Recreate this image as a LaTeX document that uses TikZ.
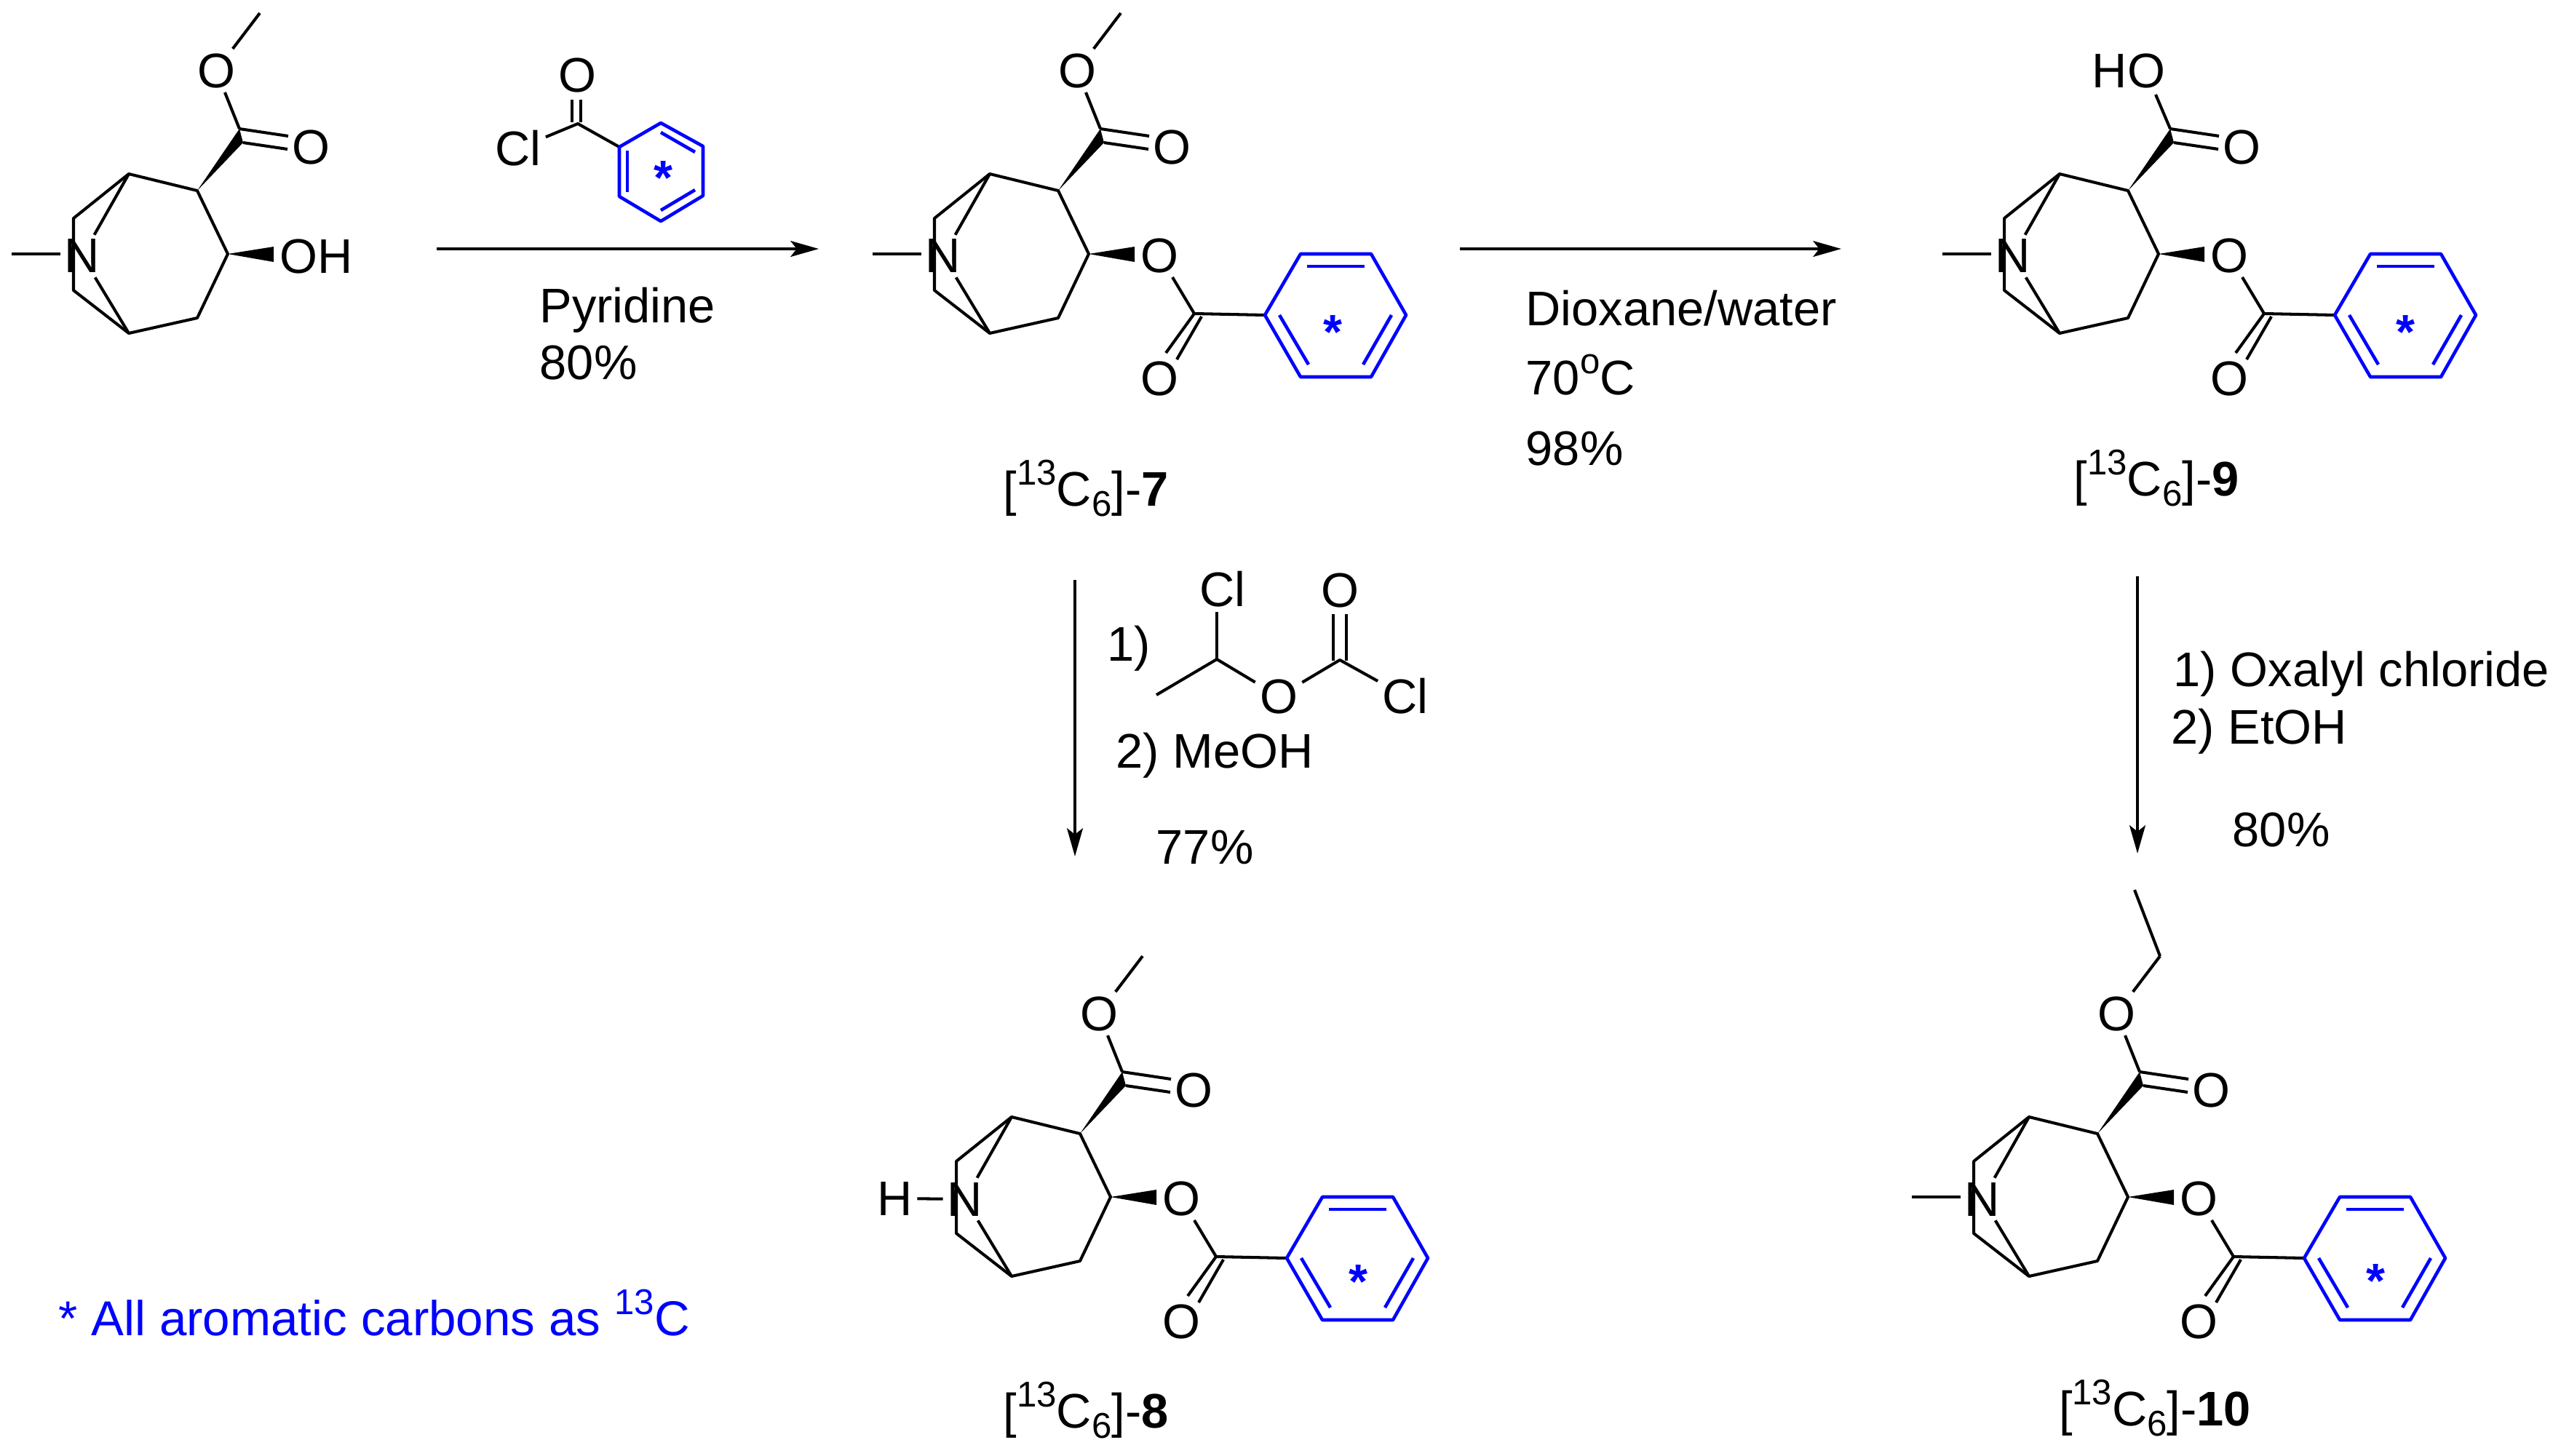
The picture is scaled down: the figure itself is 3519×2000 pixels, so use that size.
\documentclass[tikz,border=0pt]{standalone}
\usepackage{fontspec}
\setmainfont{Liberation Sans}
\usetikzlibrary{arrows.meta,calc}
\newcommand{\sups}[1]{\raisebox{.42em}{\fontsize{14}{14}\selectfont #1}}
\newcommand{\subs}[1]{\raisebox{-.22em}{\fontsize{14}{14}\selectfont #1}}
\tikzset{
  atom/.style={font=\fontsize{19}{22}\selectfont, inner sep=1.6pt},
  rxntext/.style={font=\fontsize{19}{22}\selectfont, anchor=base west, inner sep=0pt},
  cmpd/.style={font=\fontsize{19}{22}\selectfont, anchor=base, inner sep=0pt},
  labelstar/.style={font=\fontsize{19}{22}\selectfont\bfseries, text=blue, anchor=base, inner sep=0pt},
  bond/.style={line width=1.15pt, line join=round},
  ring/.style={line width=1.3pt, blue, line join=round},
  rxnarrow/.style={line width=1.15pt, -{Stealth[length=11pt,width=6.2pt,inset=2.4pt]}},
}
% tropane skeleton with the ester carbonyl
\newcommand{\tropane}{
  \coordinate (bt) at (177,239);
  \coordinate (c2) at (271,262);
  \coordinate (c3) at (313,349);
  \coordinate (c4) at (271,437);
  \coordinate (bb) at (177,458);
  \coordinate (lt) at (101,300);
  \coordinate (lb) at (101,399);
  \coordinate (ec) at (329,177);
  \coordinate (ew) at (334,196);
  \coordinate (d1) at (396,187);
  \coordinate (d2) at (395,205);
  \node[atom] (n) at (113,352) {N};
  \node[atom] (o2) at (427,202) {O};
  \draw[bond] (bt) -- (c2) -- (c3) -- (c4) -- (bb) -- (lb) -- (lt) -- cycle;
  \draw[bond] (bt) -- (n) -- (bb);
  \fill (c2) -- (ec) -- (ew) -- cycle;
  \draw[bond] (ec) -- (d1);
  \draw[bond] (ew) -- (d2);
}
% benzoate on C3
\newcommand{\benzoate}{
  \coordinate (wa) at (376,339);
  \coordinate (wb) at (376,360);
  \coordinate (bc) at (458,431);
  \coordinate (bd) at (468,435);
  \coordinate (e1) at (419,485);
  \coordinate (e2) at (434,494);
  \coordinate (r1) at (555,433);
  \coordinate (r2) at (604,349);
  \coordinate (r3) at (701,349);
  \coordinate (r4) at (749,433);
  \coordinate (r5) at (701,518);
  \coordinate (r6) at (604,518);
  \coordinate (i1) at (613,366);
  \coordinate (i2) at (692,366);
  \coordinate (i3) at (575,433);
  \coordinate (i4) at (615,501);
  \coordinate (i5) at (729,433);
  \coordinate (i6) at (690,501);
  \node[atom] (o3) at (410,351) {O};
  \node[atom] (o4) at (410,520) {O};
  \fill (c3) -- (wa) -- (wb) -- cycle;
  \draw[bond] (o3) -- (bc) -- (r1);
  \draw[bond] (bc) -- (e1);
  \draw[bond] (bd) -- (e2);
  \draw[ring] (r1) -- (r2) -- (r3) -- (r4) -- (r5) -- (r6) -- cycle;
  \draw[ring] (i1) -- (i2);
  \draw[ring] (i3) -- (i4);
  \draw[ring] (i5) -- (i6);
}
% methyl ester oxygen
\newcommand{\estero}{
  \coordinate (me) at (357,18);
  \node[atom] (o1) at (297,97) {O};
  \draw[bond] (ec) -- (o1) -- (me);
}
\begin{document}
\begin{tikzpicture}[x=0.01cm,y=-0.01cm]
\useasboundingbox (0,0) rectangle (3519,2000);

% Starting material
\begin{scope}[name prefix=m1-]
\tropane
\estero
\coordinate (nme) at (16,349);
\coordinate (wa) at (376,339);
\coordinate (wb) at (376,360);
\node[atom] (oh) at (435,352) {OH};
\draw[bond] (nme) -- (nme -| n.west);
\fill (c3) -- (wa) -- (wb) -- cycle;
\end{scope}

% Benzoyl chloride
\coordinate (pc) at (794,170);
\coordinate (pa) at (786,137);
\coordinate (pb) at (786,168);
\coordinate (pd) at (798,137);
\coordinate (pe) at (798,168);
\coordinate (p1) at (851,202);
\coordinate (p2) at (908,169);
\coordinate (p3) at (966,201);
\coordinate (p4) at (966,269);
\coordinate (p5) at (908,304);
\coordinate (p6) at (851,270);
\coordinate (q1) at (862,207);
\coordinate (q2) at (862,264);
\coordinate (q3) at (908,182);
\coordinate (q4) at (955,209);
\coordinate (q5) at (908,289);
\coordinate (q6) at (955,261);
\node[atom] (po) at (793,104) {O};
\node[atom] (pcl) at (712,204) {Cl};
\draw[bond] (pa) -- (pb);
\draw[bond] (pd) -- (pe);
\draw[bond] (pcl) -- (pc) -- (p1);
\draw[ring] (p1) -- (p2) -- (p3) -- (p4) -- (p5) -- (p6) -- cycle;
\draw[ring] (q1) -- (q2);
\draw[ring] (q3) -- (q4);
\draw[ring] (q5) -- (q6);
\node[labelstar] (s0) at (911,268) {*};

% First arrow
\coordinate (a1) at (600,342);
\coordinate (a2) at (1125,342);
\draw[rxnarrow] (a1) -- (a2);
\node[rxntext] (t1) at (741,443) {Pyridine};
\node[rxntext] (t2) at (741,521) {80\%};

% Compound 7
\begin{scope}[shift={(1183,0)},name prefix=m7-]
\tropane
\estero
\benzoate
\coordinate (nme) at (16,349);
\draw[bond] (nme) -- (nme -| n.west);
\end{scope}
\node[labelstar] (s7) at (1831,479) {*};
\node[cmpd] (l7) at (1492,695) {[\sups{13}C\subs{6}]-\textbf{7}};

% Second arrow
\coordinate (b1) at (2006,342);
\coordinate (b2) at (2530,342);
\draw[rxnarrow] (b1) -- (b2);
\node[rxntext] (t3) at (2096,447) {Dioxane/water};
\node[rxntext] (t4) at (2096,542) {70\sups{o}C};
\node[rxntext] (t5) at (2096,639) {98\%};

% Compound 9
\begin{scope}[shift={(2653,0)},name prefix=m9-]
\tropane
\benzoate
\coordinate (nme) at (16,349);
\coordinate (hb) at (309,130);
\node[atom] (ho) at (272,98) {HO};
\draw[bond] (nme) -- (nme -| n.west);
\draw[bond] (ec) -- (hb);
\end{scope}
\node[labelstar] (s9) at (3305,479) {*};
\node[cmpd] (l9) at (2963,681) {[\sups{13}C\subs{6}]-\textbf{9}};

% Down to 8
\coordinate (c1) at (1477,797);
\coordinate (c2) at (1477,1177);
\draw[rxnarrow] (c1) -- (c2);
\coordinate (rc) at (1672,906);
\coordinate (rm) at (1589,955);
\coordinate (rd) at (1841,907);
\coordinate (ra) at (1832,844);
\coordinate (rb) at (1832,908);
\coordinate (re) at (1850,844);
\coordinate (rf) at (1850,908);
\node[atom] (rcl1) at (1680,810) {Cl};
\node[atom] (ro1) at (1841,811) {O};
\node[atom] (ro2) at (1757,957) {O};
\node[atom] (rcl2) at (1931,957) {Cl};
\draw[bond] (rc) -- (rc |- rcl1.south);
\draw[bond] (rm) -- (rc) -- (ro2) -- (rd) -- (rcl2);
\draw[bond] (ra) -- (rb);
\draw[bond] (re) -- (rf);
\node[rxntext] (t6) at (1521,908) {1)};
\node[rxntext] (t7) at (1533,1055) {2) MeOH};
\node[rxntext] (t8) at (1588,1187) {77\%};

% Compound 8
\begin{scope}[shift={(1213,1296)},name prefix=m8-]
\tropane
\estero
\benzoate
\node[atom] (h) at (17,351) {H};
\draw[bond] (h) -- (n);
\end{scope}
\node[labelstar] (s8) at (1866,1784) {*};
\node[cmpd] (l8) at (1492,1962) {[\sups{13}C\subs{6}]-\textbf{8}};

% Down to 10
\coordinate (d1) at (2937,792);
\coordinate (d2) at (2937,1173);
\draw[rxnarrow] (d1) -- (d2);
\node[rxntext] (t9) at (2986,943) {1) Oxalyl chloride};
\node[rxntext] (t10) at (2983,1022) {2) EtOH};
\node[rxntext] (t11) at (3067,1163) {80\%};

% Compound 10
\begin{scope}[shift={(2611,1296)},name prefix=m10-]
\tropane
\estero
\benzoate
\coordinate (nme) at (16,349);
\coordinate (et) at (322,-73);
\draw[bond] (nme) -- (nme -| n.west);
\draw[bond] (me) -- (et);
\end{scope}
\node[labelstar] (s10) at (3264,1783) {*};
\node[cmpd] (l10) at (2961,1959) {[\sups{13}C\subs{6}]-\textbf{10}};

% Note
\node[rxntext,text=blue,font=\fontsize{19.15}{22}\selectfont] (note) at (80,1835) {* All aromatic carbons as \sups{13}C};
\end{tikzpicture}
\end{document}
